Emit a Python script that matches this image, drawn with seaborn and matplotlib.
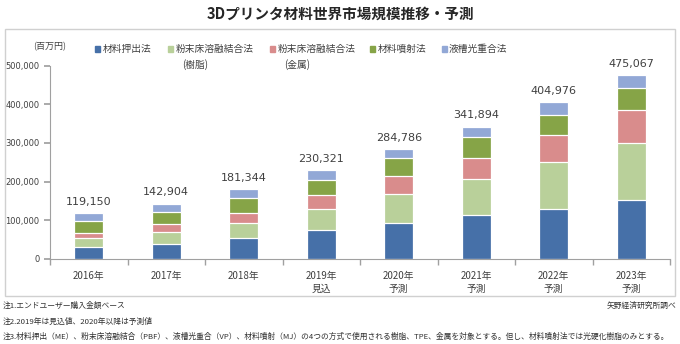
import matplotlib
matplotlib.use("Agg")
import matplotlib.pyplot as plt
from matplotlib.patches import Rectangle
import seaborn as sns
import pandas as pd
import numpy as np

years = ["2016年", "2017年", "2018年", "2019年", "2020年", "2021年", "2022年", "2023年"]
sublabels = ["", "", "", "見込", "予測", "予測", "予測", "予測"]
series_names = ["材料押出法", "粉末床溶融結合法\n(樹脂)", "粉末床溶融結合法\n(金属)", "材料噴射法", "液槽光重合法"]
me = [30000, 38300, 54400, 75600, 93300, 112800, 130300, 152400]
pbf_resin = [24000, 30600, 39400, 54000, 75800, 94500, 119200, 146200]
pbf_metal = [13300, 20400, 26300, 34700, 44400, 54700, 70700, 85700]
mj = [31200, 33200, 36800, 39100, 47000, 52100, 52600, 57100]
vp = [20500, 20400, 24400, 26900, 24300, 27800, 31900, 33700]
totals = [119150, 142904, 181344, 230321, 284786, 341894, 404976, 475067]
yticks = [0, 100000, 200000, 300000, 400000, 500000]
colors = ["#4670a8", "#b9d09a", "#d98c8c", "#86a447", "#92a8d6"]

W, H = 680, 344
sns.set_theme(style="white")
plt.rcParams["font.family"] = ["Noto Sans CJK JP", "DejaVu Sans"]

fig = plt.figure(figsize=(W / 100, H / 100), dpi=100)
def fx(x): return x / W
def fy(y): return 1 - y / H

# outer box
fig.patches.append(Rectangle((fx(5), fy(296)), fx(675) - fx(5), fy(29) - fy(296),
                             transform=fig.transFigure, fill=False, edgecolor="#d0d0d0", lw=1))

ax = fig.add_axes([fx(50), fy(259), fx(670) - fx(50), fy(65.5) - fy(259)])

df = pd.DataFrame({"year": years, "s0": me, "s1": pbf_resin, "s2": pbf_metal, "s3": mj, "s4": vp})
cols = ["s0", "s1", "s2", "s3", "s4"]
cum = df[cols].cumsum(axis=1)
for k in range(4, -1, -1):
    d = pd.DataFrame({"year": years, "v": cum[cols[k]]})
    sns.barplot(data=d, x="year", y="v", order=years, color=colors[k], width=0.38,
                edgecolor="white", linewidth=0.9, errorbar=None, ax=ax, saturation=1)

for i, t in enumerate(totals):
    ax.annotate(f"{t:,}", (i, cum["s4"][i]), xytext=(0, 4.5), textcoords="offset points",
                ha="center", va="bottom", fontsize=8, color="#404040", family="DejaVu Sans")

ax.set_xlim(-0.5, 7.5)
ax.set_ylim(0, 500000)
ax.set_yticks(yticks)
ax.set_yticklabels([f"{v:,}" for v in yticks], fontsize=6, color="#404040", family="DejaVu Sans")
ax.set_xticks(range(len(years)))
ax.set_xticklabels(years, fontsize=7, color="#404040")
ax.set_xticks(np.arange(-0.5, 8, 1), minor=True)
ax.tick_params(axis="x", which="major", length=0, pad=9)
ax.tick_params(axis="x", which="minor", length=4, color="#a0a0a0", direction="out", bottom=True)
ax.tick_params(axis="y", length=4, color="#a0a0a0", direction="out", left=True, pad=3.5)
ax.set_xlabel("")
ax.set_ylabel("")
for s in ["top", "right"]:
    ax.spines[s].set_visible(False)
for s in ["left", "bottom"]:
    ax.spines[s].set_color("#a0a0a0")
    ax.spines[s].set_linewidth(0.8)

for i, s in enumerate(sublabels):
    if s:
        ax.text(i, -0.155, s, transform=ax.get_xaxis_transform(), ha="center", va="center",
                fontsize=7, color="#404040")

# title
fig.text(0.5, fy(14), "3Dプリンタ材料世界市場規模推移・予測", ha="center", va="center",
         fontsize=10.5, fontweight="bold", color="#262626")

# unit
fig.text(fx(50), fy(47), "(百万円)", ha="center", va="center", fontsize=6.5, color="#404040")

# legend
leg_x = [97.7, 170.7, 272.7, 372.7, 444]
for k, name in enumerate(series_names):
    fig.patches.append(Rectangle((fx(leg_x[k] - 2.5), fy(51.5)), 5 / W, 5 / H,
                                 transform=fig.transFigure, color=colors[k]))
    lines = name.split("\n")
    fig.text(fx(leg_x[k] + 5), fy(49), lines[0], ha="left", va="center", fontsize=7, color="#404040")
    if len(lines) > 1:
        fig.text(fx(leg_x[k] + 11), fy(65), lines[1], ha="left", va="center", fontsize=7, color="#404040")

# footnotes
fn = ["注1.エンドユーザー購入金額ベース",
      "注2.2019年は見込値、2020年以降は予測値",
      "注3.材料押出（ME）、粉末床溶融結合（PBF）、液槽光重合（VP）、材料噴射（MJ）の4つの方式で使用される樹脂、TPE、金属を対象とする。但し、材料噴射法では光硬化樹脂のみとする。"]
fy_pos = [306, 322, 337]
for t, y in zip(fn, fy_pos):
    fig.text(fx(3), fy(y), t, ha="left", va="center", fontsize=5.6, color="#303030")
fig.text(fx(676), fy(306), "矢野経済研究所調べ", ha="right", va="center", fontsize=5.6, color="#303030")

fig.savefig("out.png", dpi=100)
